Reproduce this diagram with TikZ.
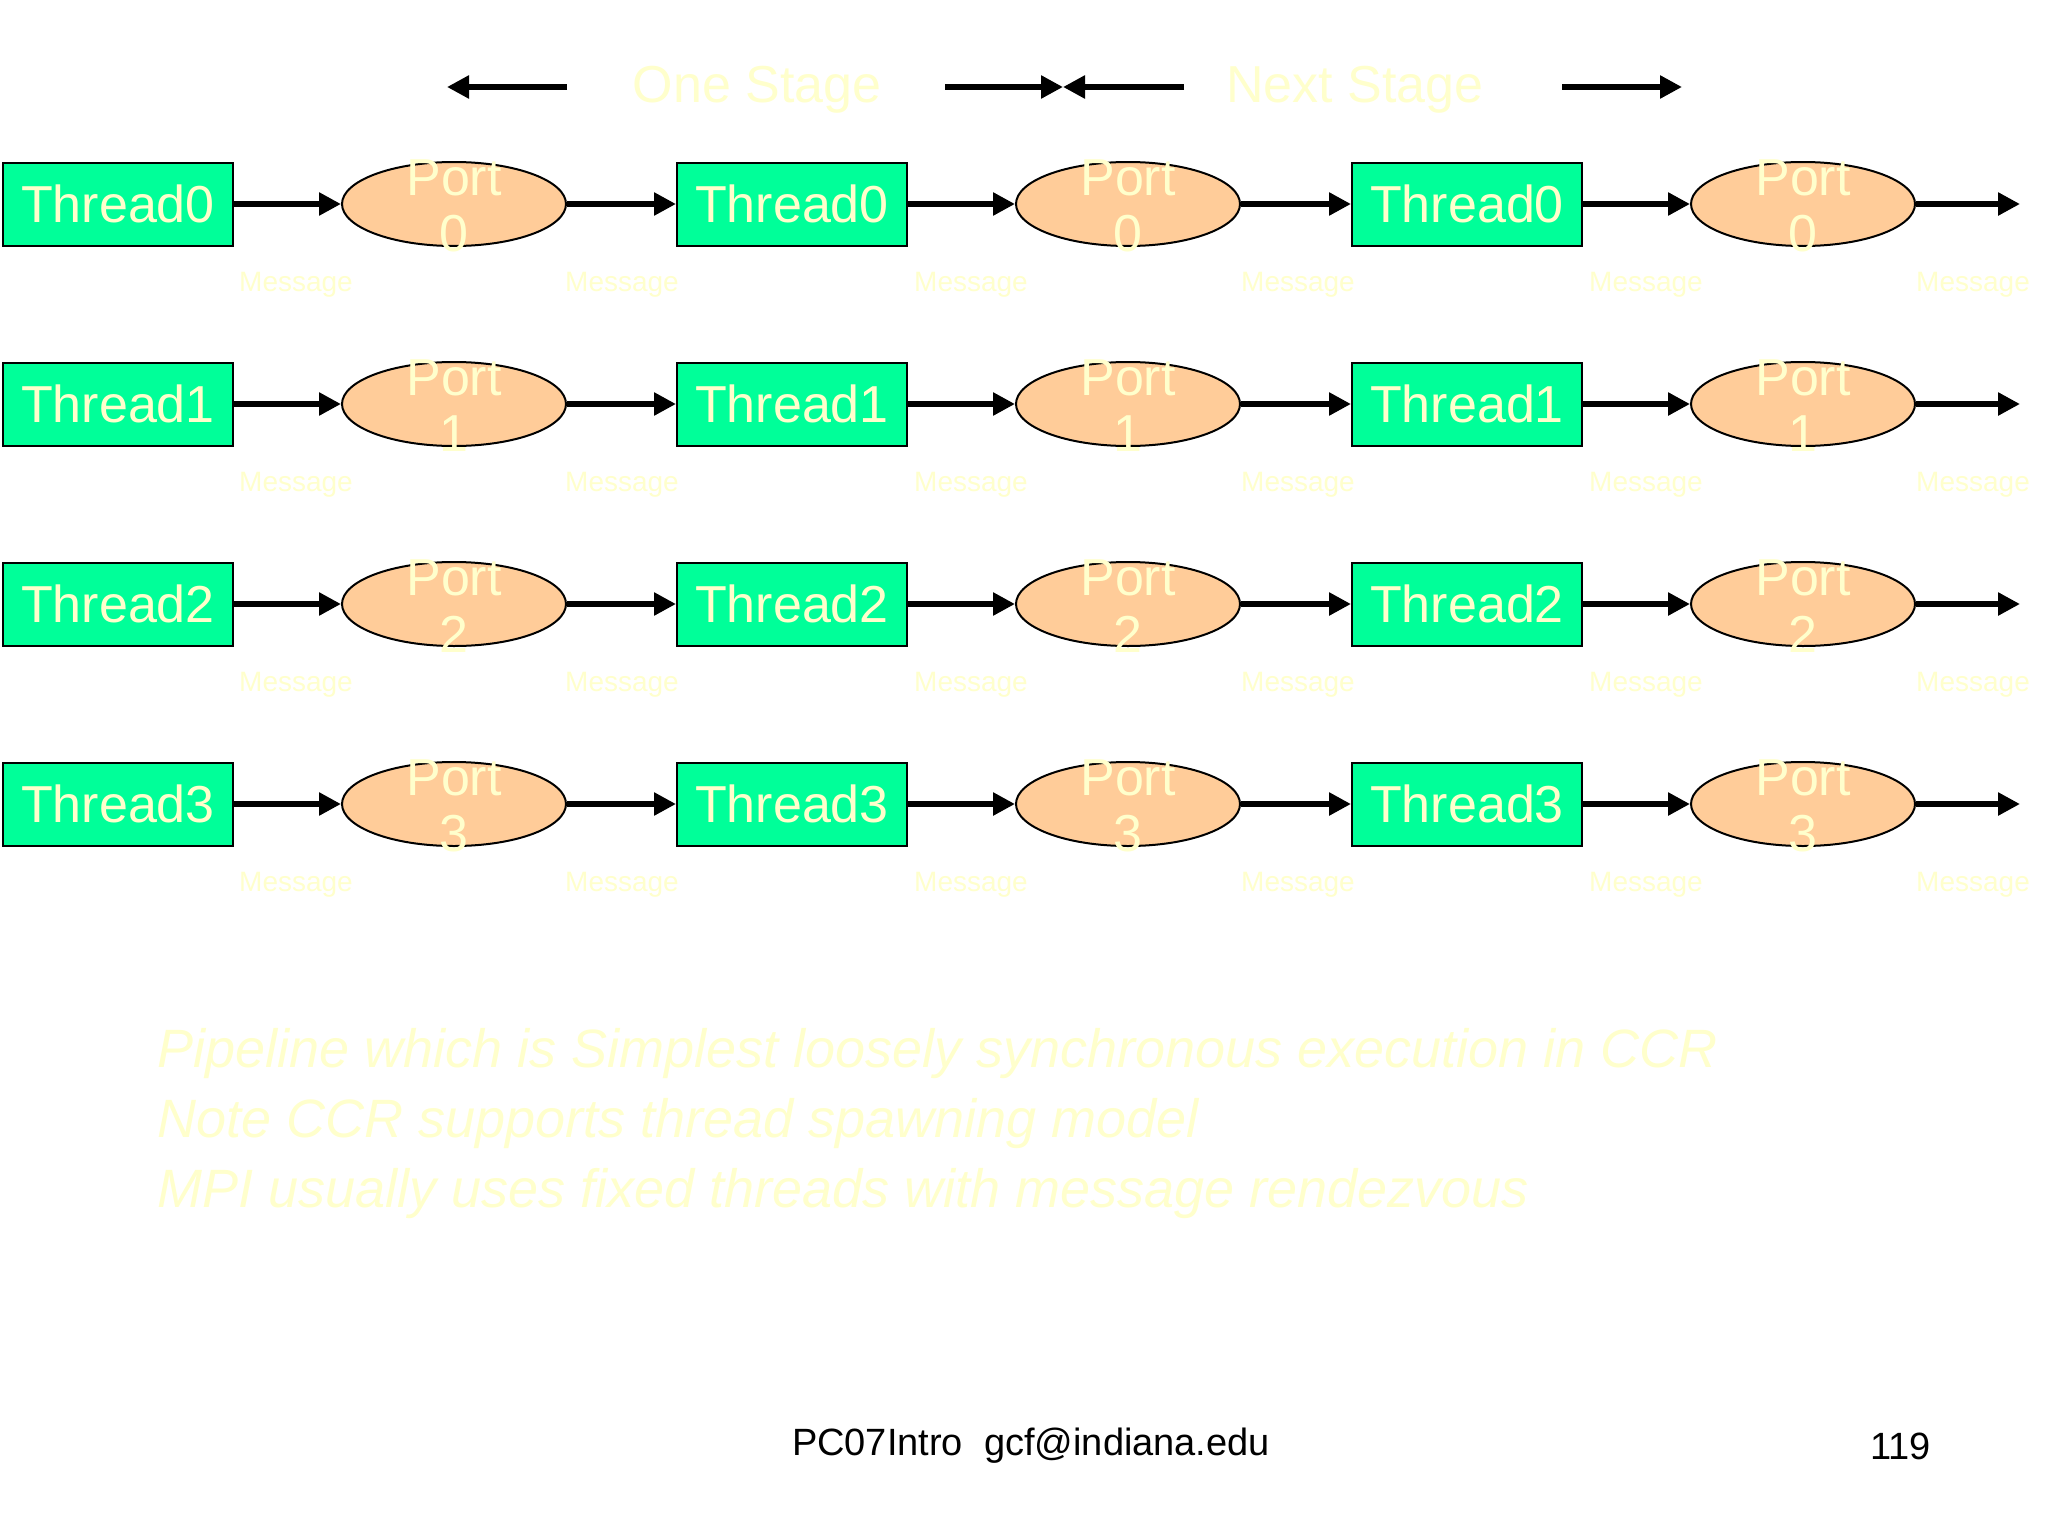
\documentclass[tikz,border=0pt]{standalone}
\usepackage{fontspec}
\setmainfont{Liberation Sans}
\usetikzlibrary{arrows.meta,shapes.geometric}
\definecolor{tgreen}{HTML}{00FF99}
\definecolor{pfill}{HTML}{FFCC99}
\definecolor{ytext}{HTML}{FFFFCC}
\tikzset{
 thr/.style={draw=black,line width=1pt,fill=tgreen,minimum width=115pt,minimum height=41.5pt,inner sep=0pt,text=ytext,font=\fontsize{26}{28}\selectfont},
 prt/.style={draw=black,line width=1pt,fill=pfill,ellipse,minimum width=112pt,minimum height=42pt,inner sep=0pt},
 plab/.style={text=ytext,font=\fontsize{26}{28}\selectfont,align=center},
 msg/.style={text=ytext,font=\fontsize{14}{16}\selectfont},
 arr/.style={line width=3pt,-{Triangle[length=11pt,width=11pt]}},
}
\begin{document}
\begin{tikzpicture}[x=0.5pt,y=-0.5pt]
\useasboundingbox[fill=white] (0,0) rectangle (2048,1536);
\coordinate (a1s) at (567,87); \coordinate (a1e) at (447,87);
\coordinate (a2s) at (945,87); \coordinate (a2e) at (1063,87);
\coordinate (a3s) at (1184,87); \coordinate (a3e) at (1063,87);
\coordinate (a4s) at (1562,87); \coordinate (a4e) at (1682,87);
\draw[arr] (a1s) -- (a1e);
\draw[arr] (a2s) -- (a2e);
\draw[arr] (a3s) -- (a3e);
\draw[arr] (a4s) -- (a4e);
\node[plab] (one) at (757,90) {One Stage};
\node[plab] (next) at (1355,90) {Next Stage};
\foreach \r/\y in {0/204,1/404,2/604,3/804}{
  \node[thr] (t\r a) at (118,\y) {Thread\r};
  \node[prt] (p\r a) at (454,\y) {};
  \node[thr] (t\r b) at (792,\y) {Thread\r};
  \node[prt] (p\r b) at (1128,\y) {};
  \node[thr] (t\r c) at (1467,\y) {Thread\r};
  \node[prt] (p\r c) at (1803,\y) {};
  \coordinate (e\r) at (2020,\y);
  \foreach \x/\n in {454/a,1128/b,1803/c}{
    \node[plab] (pl\r\n) at (\x,\y-26) {Port};
    \node[plab] (pn\r\n) at (\x,\y+30) {\r};
  }
  \draw[arr] (t\r a) -- (p\r a);
  \draw[arr] (p\r a) -- (t\r b);
  \draw[arr] (t\r b) -- (p\r b);
  \draw[arr] (p\r b) -- (t\r c);
  \draw[arr] (t\r c) -- (p\r c);
  \draw[arr] (p\r c) -- (e\r);
  \foreach \x [count=\i] in {296,622,971,1298,1646,1973}{
    \node[msg] (m\r\i) at (\x,\y+81) {Message};
  }
}
\node[text=ytext,anchor=west,align=left,font=\fontsize{27}{35}\selectfont\itshape] (body) at (150,1124)
 {Pipeline which is Simplest loosely synchronous execution in CCR\\Note CCR supports thread spawning model\\MPI usually uses fixed threads with message rendezvous};
\node[font=\fontsize{19}{22}\selectfont] (foot) at (1031,1446) {PC07Intro\ \ gcf@indiana.edu};
\node[font=\fontsize{19}{22}\selectfont,anchor=east] (pg) at (1938,1446) {119};
\end{tikzpicture}
\end{document}
